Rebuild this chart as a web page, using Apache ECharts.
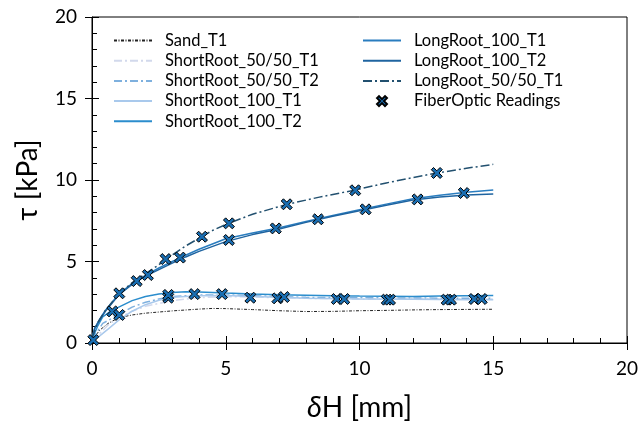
<!DOCTYPE html>
<html><head><meta charset="utf-8">
<script src="https://cdn.jsdelivr.net/npm/echarts@6/dist/echarts.min.js"></script>
<style>html,body{margin:0;padding:0;background:#fff}#c{width:641px;height:421px}</style>
</head><body><div id="c"></div>
<script>
// ---- data (x: δH [mm], y: τ [kPa]) ----
const sandT1 = [[0,0.2],[0.3,0.8],[0.6,1.2],[1,1.55],[1.5,1.72],[2,1.83],[3,1.97],[4,2.08],[4.5,2.12],[5,2.11],[6,2.05],[7,1.98],[8,1.93],[9,1.94],[10,1.98],[11,2.0],[12,2.03],[13,2.05],[14,2.06],[15,2.07]];
const short5050T1 = [[0,0.1],[0.3,0.6],[0.6,1.1],[1,1.55],[1.5,1.95],[2,2.25],[3,2.6],[4,2.78],[5,2.85],[6,2.82],[7,2.78],[8,2.74],[10,2.7],[12,2.74],[13,2.72],[15,2.7]];
const short5050T2 = [[0,0.2],[0.4,1.2],[1,1.75],[1.5,2.2],[2,2.5],[2.5,2.7],[3,2.85],[4,2.95],[5,2.95],[6,2.9],[7,2.85],[8,2.8],[10,2.78],[12,2.76],[13,2.75],[15,2.75]];
const short100T1 = [[0,0.1],[0.3,0.45],[0.6,0.85],[1,1.4],[1.5,1.95],[2,2.35],[2.5,2.62],[3,2.8],[4,2.9],[5,2.92],[6,2.85],[7,2.8],[8,2.75],[10,2.7],[12,2.68],[14,2.66],[15,2.65]];
const short100T2 = [[0,0.2],[0.2,1.0],[0.4,1.6],[0.7,1.95],[1,2.2],[1.5,2.6],[2,2.85],[2.5,3.0],[3,3.1],[3.5,3.15],[4,3.13],[5,3.06],[6,3.0],[7,2.96],[8,2.93],[9,2.9],[10,2.88],[11,2.87],[12,2.86],[13,2.88],[14,2.9],[15,2.92]];
const long100T1 = [[0,0.3],[0.1,0.9],[0.3,1.5],[0.5,2.0],[0.8,2.6],[1,3.0],[1.5,3.65],[2,4.15],[2.5,4.6],[3,5.0],[3.5,5.38],[4,5.75],[5,6.4],[6,6.75],[7,7.07],[8,7.45],[9,7.82],[10,8.17],[11,8.52],[12,8.85],[13,9.07],[14,9.25],[15,9.39]];
const long100T2 = [[0,0.3],[0.1,0.9],[0.3,1.45],[0.5,1.95],[0.8,2.55],[1,2.95],[1.5,3.6],[2,4.1],[2.5,4.5],[3,4.9],[3.5,5.28],[4,5.62],[5,6.22],[6,6.65],[7,7.0],[8,7.4],[9,7.78],[10,8.12],[11,8.45],[12,8.77],[13,8.95],[14,9.08],[15,9.14]];
const long5050T1 = [[0,0.3],[0.2,1.2],[0.5,2.0],[1,3.0],[1.5,3.7],[2,4.25],[2.5,4.8],[2.75,5.15],[3,5.4],[3.5,5.95],[4.1,6.52],[4.5,6.9],[5.1,7.34],[6,7.9],[7.3,8.51],[8.5,8.95],[9.8,9.37],[11,9.82],[12,10.15],[12.9,10.43],[14,10.72],[15,10.96]];
const fiberOptic = [[0.05,0.18],[0.76,1.94],[1.02,1.72],[1.02,3.05],[1.67,3.8],[2.09,4.17],[2.75,5.15],[3.29,5.24],[2.85,2.78],[2.85,2.95],[3.83,3.0],[4.11,6.52],[4.86,3.0],[5.12,6.32],[5.12,7.34],[5.92,2.78],[6.87,7.03],[6.93,2.74],[7.18,2.82],[7.28,8.51],[8.45,7.59],[9.15,2.7],[9.43,2.7],[9.84,9.37],[10.23,8.2],[11.02,2.66],[11.14,2.66],[12.17,8.81],[12.89,10.43],[13.26,2.66],[13.42,2.66],[13.9,9.2],[14.29,2.7],[14.57,2.7]];
const seriesNames = ['Sand_T1','ShortRoot_50/50_T1','ShortRoot_50/50_T2','ShortRoot_100_T1','ShortRoot_100_T2','LongRoot_100_T1','LongRoot_100_T2','LongRoot_50/50_T1','FiberOptic Readings'];
const xTicks = [0,5,10,15,20];
const yTicks = [0,5,10,15,20];

const FONT = 'Lato';
function line(name, data, color, width, type){
  return {name, type:'line', data, xAxisIndex:0, yAxisIndex:0, symbol:'none', showSymbol:false,
    lineStyle:{color, width, type}, itemStyle:{color, opacity:0}, z:2};
}
const xPath = 'path://M0,2 L2,0 L5,3 L8,0 L10,2 L7,5 L10,8 L8,10 L5,7 L2,10 L0,8 L3,5 Z';
const series = [
  line(seriesNames[0], sandT1, '#222222', 1, [3,1.5,1,1.5]),
  line(seriesNames[1], short5050T1, '#d2d9ec', 1.5, [8,3,2,3]),
  line(seriesNames[2], short5050T2, '#7eb0de', 1.5, [8,3,2,3]),
  line(seriesNames[3], short100T1, '#a9c9ec', 1.5, 'solid'),
  line(seriesNames[4], short100T2, '#2b8dcd', 1.5, 'solid'),
  line(seriesNames[5], long100T1, '#2a7dbf', 1.5, 'solid'),
  line(seriesNames[6], long100T2, '#1f64a0', 1.5, 'solid'),
  line(seriesNames[7], long5050T1, '#22506f', 1.5, [9,3,2,3]),
  {name: seriesNames[8], type:'scatter', data: fiberOptic, symbol: xPath, symbolSize: 11,
   itemStyle:{color:'#1a6eb2', borderColor:'#000', borderWidth:1, opacity:1}, z:5}
];
const axisLbl = {fontFamily:FONT, fontSize:19, color:'#000'};
const legendText = {fontFamily:FONT, fontSize:16.5, color:'#000', padding:[0,0,0,8]};
const opt = {
  animation:false,
  backgroundColor:'#fff',
  grid:{left:92, right:14, top:17, bottom:78, outerBoundsMode:'none', containLabel:false,
        show:true, borderColor:'#000', borderWidth:1, backgroundColor:'transparent'},
  legend:[
    {data: seriesNames.slice(0,5), orient:'vertical', left:108, top:27, itemWidth:38, itemHeight:10, itemGap:3.2, textStyle:legendText},
    {data: seriesNames.slice(5), orient:'vertical', left:357, top:27, itemWidth:38, itemHeight:10, itemGap:3.2, textStyle:legendText}
  ],
  xAxis:[
    {type:'value', min:0, max:20, interval:5, position:'bottom',
     name:'{i|δ}H [mm]', nameLocation:'middle', nameGap:50,
     nameTextStyle:{fontFamily:FONT, fontSize:28, color:'#000', rich:{i:{fontFamily:FONT, fontSize:29, fontStyle:'italic', color:'#000'}}},
     axisLine:{show:true, lineStyle:{color:'#000', width:1}},
     axisTick:{show:true, inside:true, length:7, lineStyle:{color:'#000'}},
     minorTick:{show:true, splitNumber:5, length:5, lineStyle:{color:'#000'}},
     axisLabel:Object.assign({margin:16, formatter:v=>xTicks.includes(v)?String(v):''}, axisLbl),
     splitLine:{show:false}},
    {type:'value', min:0, max:20, interval:5, position:'bottom', offset:0,
     axisLine:{show:false}, axisTick:{show:true, inside:false, length:7, lineStyle:{color:'#000'}},
     axisLabel:{show:false}, splitLine:{show:false}}
  ],
  yAxis:[
    {type:'value', min:0, max:20, interval:5, position:'left',
     name:'τ [kPa]', nameLocation:'middle', nameGap:50, nameRotate:90,
     nameTextStyle:{fontFamily:FONT, fontSize:28, color:'#000'},
     axisLine:{show:true, lineStyle:{color:'#000', width:1}},
     axisTick:{show:true, inside:true, length:7, lineStyle:{color:'#000'}},
     minorTick:{show:true, splitNumber:5, length:5, lineStyle:{color:'#000'}},
     axisLabel:Object.assign({margin:15, formatter:v=>yTicks.includes(v)?String(v):''}, axisLbl),
     splitLine:{show:false}},
    {type:'value', min:0, max:20, interval:5, position:'left', offset:0,
     axisLine:{show:false}, axisTick:{show:true, inside:false, length:7, lineStyle:{color:'#000'}},
     axisLabel:{show:false}, splitLine:{show:false}}
  ],
  series
};
const chart = echarts.init(document.getElementById('c'), null, {renderer:'canvas'});
chart.setOption(opt);
</script></body></html>
